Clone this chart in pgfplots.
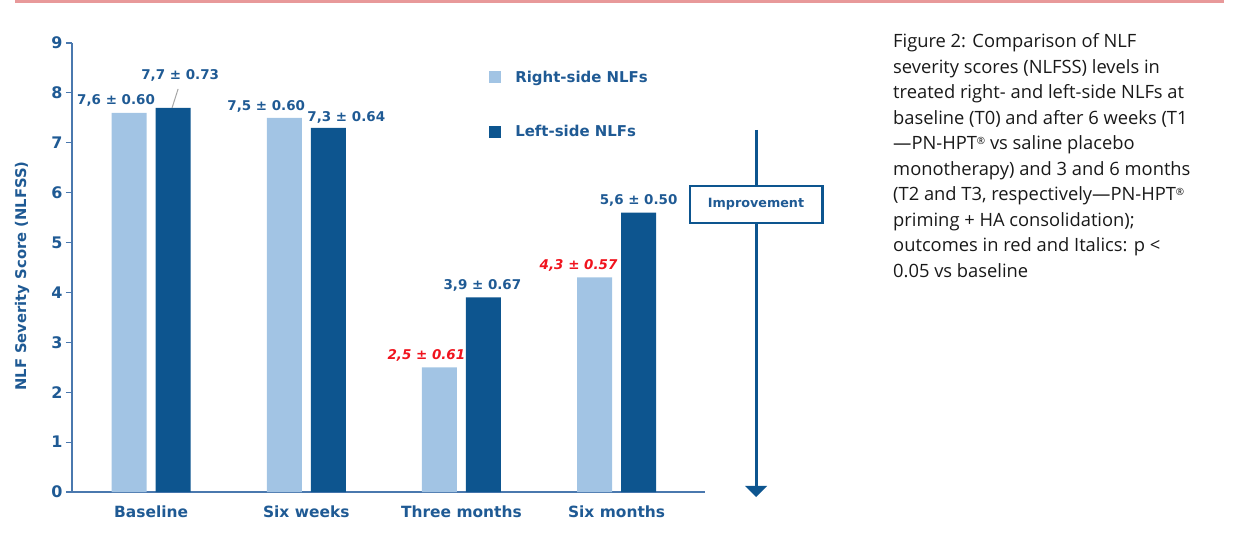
\documentclass[border=0pt]{standalone}
\usepackage{fontspec}
\usepackage{pgfplots}
\pgfplotsset{compat=1.18}
\setmainfont{DejaVu Sans}
\newfontfamily\capfont{Open Sans}
\definecolor{rightc}{HTML}{A2C4E4}
\definecolor{leftc}{HTML}{0D558F}
\definecolor{txtc}{HTML}{1F5A94}
\definecolor{axc}{HTML}{4A78AE}
\definecolor{sigc}{HTML}{F0141E}
\definecolor{topc}{HTML}{E8999A}
\newcommand\reg{\raisebox{5bp}{\fontsize{10}{10}\selectfont ®}}
\begin{document}
\begin{tikzpicture}
\begin{axis}[
    scale only axis, width=633bp, height=449bp,
    xmin=-0.51, xmax=3.57, ymin=0, ymax=9,
    clip=false,
    axis x line=bottom, axis y line=left,
    axis line style={axc, line width=2pt, -},
    ybar=9bp, bar width=35bp,
    xtick={0,1,2,3},
    xticklabels={Baseline, Six weeks, Three months, Six months},
    xtick style={draw=none},
    ytick={0,...,9},
    tick align=outside, major tick length=6bp,
    ytick style={axc, line width=1.2pt},
    /pgf/number format/assume math mode=true,
    ticklabel style={font=\fontsize{16}{18}\selectfont\bfseries, text=txtc},
    xticklabel style={yshift=-4bp, font=\fontsize{15.5}{17}\selectfont\bfseries},
    ylabel={NLF Severity Score (NLFSS)},
    ylabel style={at={(axis description cs:-0.079,0.481)}, anchor=center,
        font=\fontsize{14.8}{16}\selectfont\bfseries, text=txtc},
    legend style={at={(axis description cs:0.659,0.943)}, anchor=north west,
        draw=none, fill=none, inner sep=0pt, row sep=38bp,
        font=\fontsize{15}{17}\selectfont\bfseries, text=txtc,
        nodes={inner xsep=14bp}},
    legend cell align=left,
]
% page frame (1235 x 539 px) and top rule, in axis units
\path (axis cs:-0.97408,-0.94212) rectangle (axis cs:6.98612,9.86214);
\fill[topc] (axis cs:-0.87739,9.80200) rectangle (axis cs:6.91522,9.86214);

\addplot[fill=rightc, draw=none,
    legend image code/.code={\fill[rightc] (0bp,-6bp) rectangle (12bp,6bp);}]
    coordinates {(0,7.6) (1,7.5) (2,2.5) (3,4.3)};
\addlegendentry{Right-side NLFs}
\addplot[fill=leftc, draw=none,
    legend image code/.code={\fill[leftc] (0bp,-6bp) rectangle (12bp,6bp);}]
    coordinates {(0,7.7) (1,7.3) (2,3.9) (3,5.6)};
\addlegendentry{Left-side NLFs}

% value labels
\begin{scope}[every node/.style={font=\fontsize{13.5}{15}\selectfont\bfseries, text=txtc, inner sep=0pt}]
\node at (axis cs:-0.226,7.84) {7,6 ± 0.60};
\node at (axis cs:0.187,8.34) {7,7 ± 0.73};
\node at (axis cs:0.742,7.72) {7,5 ± 0.60};
\node at (axis cs:1.258,7.50) {7,3 ± 0.64};
\node at (axis cs:2.135,4.13) {3,9 ± 0.67};
\node at (axis cs:3.142,5.85) {5,6 ± 0.50};
\node[text=sigc, font=\fontsize{13.5}{15}\selectfont\bfseries\itshape] at (axis cs:1.774,2.73) {2,5 ± 0.61};
\node[text=sigc, font=\fontsize{13.5}{15}\selectfont\bfseries\itshape] at (axis cs:2.755,4.55) {4,3 ± 0.57};
\end{scope}
\draw[gray!70, line width=1pt] (axis cs:0.174,8.08) -- (axis cs:0.135,7.70);

% improvement arrow and box
\draw[leftc, line width=3pt] (axis cs:3.89872,7.25629) -- (axis cs:3.89872,0.10023);
\fill[leftc] (axis cs:3.82782,0.12027) -- (axis cs:3.96962,0.12027) -- (axis cs:3.89872,-0.10023) -- cycle;
\draw[leftc, line width=3pt, fill=white] (axis cs:3.47332,5.39211) rectangle (axis cs:4.32413,6.13377);
\node[text=txtc, font=\fontsize{12.8}{14}\selectfont\bfseries] at (axis cs:3.89872,5.76294) {Improvement};

% caption
\node[anchor=north west, align=left, inner sep=0pt, text=black!90,
      font=\capfont\fontsize{18.4}{25.6}\selectfont] at (axis cs:4.78176,9.19061) {Figure 2: Comparison of NLF\\
severity scores (NLFSS) levels in\\
treated right- and left-side NLFs at\\
baseline (T0) and after 6 weeks (T1\\
—PN-HPT\reg{} vs saline placebo\\
monotherapy) and 3 and 6 months\\
(T2 and T3, respectively—PN-HPT\reg\\
priming + HA consolidation);\\
outcomes in red and Italics: p <\\
0.05 vs baseline};
\end{axis}
\end{tikzpicture}
\end{document}
